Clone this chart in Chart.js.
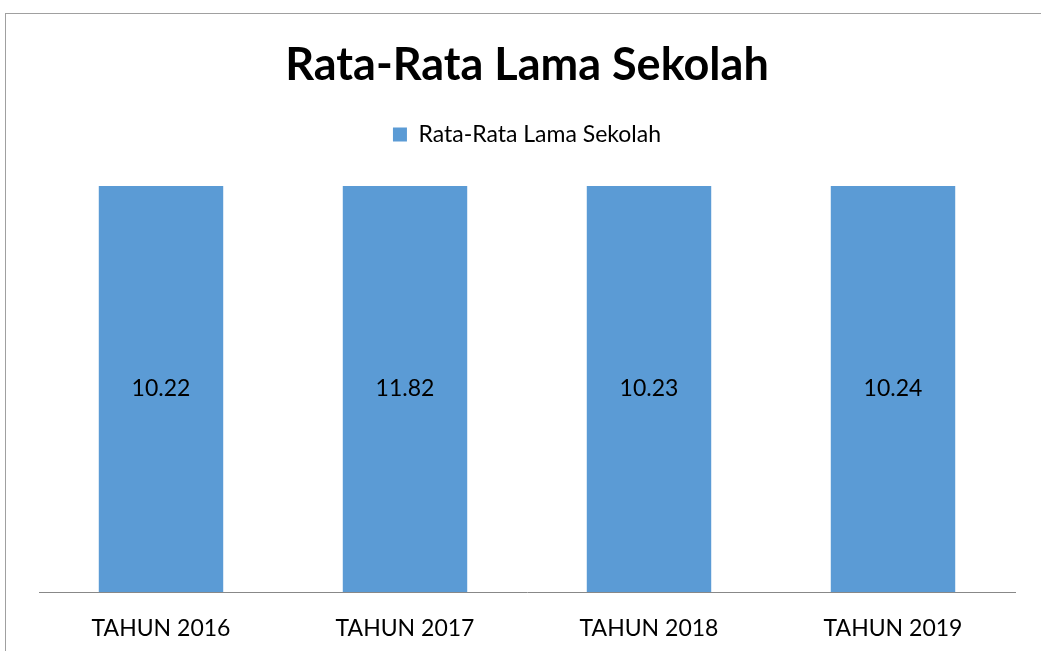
<!DOCTYPE html>
<html lang="id">
<head>
    <meta charset="UTF-8">
    <title>Rata-Rata Lama Sekolah</title>
    <script src="https://cdn.jsdelivr.net/npm/chart.js"></script>
    <style>
        body {
            margin: 0;
            background: #fff;
            overflow: hidden;
        }
        .frame {
            position: absolute;
            left: 5px;
            top: 13px;
            width: 1100px;
            height: 700px;
            border: 1px solid #a0a0a0;
        }
        .chart-box {
            position: absolute;
            left: 0;
            top: 0;
            width: 1041px;
            height: 651px;
        }
    </style>
</head>
<body>
    <div class="frame"></div>
    <div class="chart-box">
        <canvas id="barChart"></canvas>
    </div>
    <script>
        const years = ['TAHUN 2016', 'TAHUN 2017', 'TAHUN 2018', 'TAHUN 2019'];
        const lamaSekolah = [10.22, 11.82, 10.23, 10.24];
        const seriesName = 'Rata-Rata Lama Sekolah';

        const fontFamily = 'Lato, "Open Sans", sans-serif';

        // value labels drawn in the middle of the visible part of each bar
        const barValues = {
            id: 'barValues',
            afterDatasetsDraw(chart) {
                const ctx = chart.ctx;
                const area = chart.chartArea;
                const meta = chart.getDatasetMeta(0);
                ctx.save();
                ctx.fillStyle = '#000';
                ctx.font = '23px ' + fontFamily;
                ctx.textAlign = 'center';
                ctx.textBaseline = 'middle';
                meta.data.forEach((bar, i) => {
                    const top = Math.max(bar.y, area.top);
                    const bottom = Math.min(bar.base, area.bottom);
                    ctx.fillText(lamaSekolah[i].toFixed(2), bar.x, (top + bottom) / 2);
                });
                ctx.restore();
            }
        };

        // extra room under the legend
        const legendGap = {
            id: 'legendGap',
            beforeLayout(chart) {
                const legend = chart.legend;
                if (!legend || legend._gapPatched) return;
                const fit = legend.fit;
                legend.fit = function () {
                    fit.call(this);
                    this.height += 30;
                };
                legend._gapPatched = true;
            }
        };

        new Chart(document.getElementById('barChart'), {
            type: 'bar',
            data: {
                labels: years,
                datasets: [{
                    label: seriesName,
                    data: lamaSekolah,
                    backgroundColor: '#5b9bd5',
                    barPercentage: 0.51,
                    categoryPercentage: 1
                }]
            },
            options: {
                responsive: true,
                maintainAspectRatio: false,
                animation: false,
                layout: {
                    padding: { left: 39, right: 26, top: 38, bottom: 0 }
                },
                plugins: {
                    title: {
                        display: true,
                        text: 'Rata-Rata Lama Sekolah',
                        color: '#000',
                        font: { family: fontFamily, size: 45, weight: 'bold' },
                        padding: { top: 0, bottom: 10 }
                    },
                    legend: {
                        display: true,
                        labels: {
                            color: '#000',
                            font: { family: fontFamily, size: 23 },
                            boxWidth: 14,
                            boxHeight: 14,
                            padding: 21
                        }
                    },
                    tooltip: { enabled: false }
                },
                scales: {
                    x: {
                        grid: { display: false },
                        border: { display: true, color: '#888', width: 1 },
                        ticks: {
                            color: '#000',
                            font: { family: fontFamily, size: 23 },
                            padding: 15
                        },
                        afterFit(scale) {
                            scale.height = 59;
                        }
                    },
                    y: {
                        display: false,
                        min: 0,
                        max: 10
                    }
                }
            },
            plugins: [barValues, legendGap]
        });
    </script>
</body>
</html>
